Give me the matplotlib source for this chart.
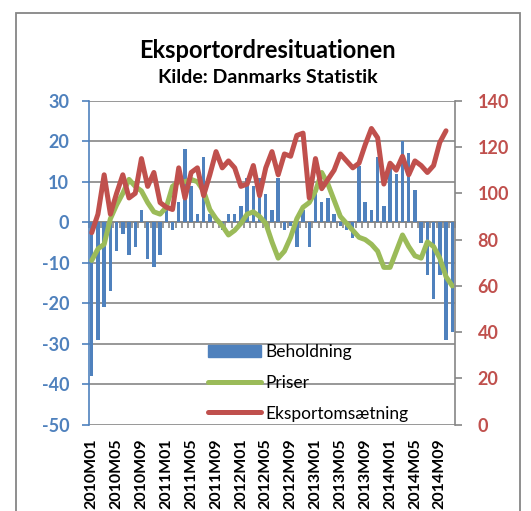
import numpy as np
import matplotlib
matplotlib.use('Agg')
import matplotlib.pyplot as plt
from matplotlib.patches import Rectangle
from matplotlib.lines import Line2D

plt.rcParams['font.family'] = ['Lato', 'DejaVu Sans']
plt.rcParams['axes.unicode_minus'] = False

# 2010M01 .. 2014M11
months = [f"{y}M{m:02d}" for y in range(2010, 2015) for m in range(1, 13)][:59]

beholdning = [-38, -29, -21, -17, -7, -3, -8, -6, 3, -9,
              -11, -8, 3, -2, 5, 18, 9, 2, 16, 2,
              0, -2, 2, 2, 4, 11, 9, 11, 7, 3,
              11, -2, -1, -6, 3, -6, 8, 5, 6, 2,
              -1, -2, -4, 14, 5, 3, 16, 4, 14, 12,
              20, 17, 8, -5, -13, -19, -13, -29, -27]

priser = [71, 76, 78, 89, 95, 100, 106, 103, 101, 96,
          92, 91, 94, 103, 105, 105, 106, 105, 101, 93,
          89, 86, 82, 84, 87, 91, 92, 90, 87, 79,
          72, 75, 81, 89, 94, 96, 101, 109, 104, 97,
          90, 87, 84, 81, 80, 78, 75, 68, 68, 75,
          82, 77, 73, 72, 79, 77, 72, 64, 60]

eksport = [83, 91, 108, 91, 100, 108, 98, 100, 115, 103,
           109, 96, 94, 93, 111, 98, 109, 111, 99, 108,
           118, 111, 114, 111, 103, 104, 112, 99, 111, 118,
           108, 117, 116, 125, 126, 98, 115, 102, 106, 110,
           117, 114, 111, 113, 121, 128, 124, 104, 113, 110,
           116, 108, 114, 112, 109, 112, 122, 127, np.nan]

blue = '#4F81BD'
green = '#9BBB59'
red = '#C0504D'
grey = '#868686'

fig = plt.figure(figsize=(5.31, 5.11), dpi=100)
ax = fig.add_axes([0.1669, 0.1687, 0.6906, 0.6342])
ax2 = ax.twinx()

x = np.arange(len(months))
ax.bar(x, beholdning, width=0.55, color=blue, zorder=3)
ax.set_xlim(-0.5, len(months) - 0.5)
ax.set_ylim(-50, 30)
ax.set_yticks(range(-50, 31, 10))
ax.yaxis.grid(True, color=grey, lw=1.2)
ax.set_axisbelow(True)

ax2.plot(x, priser, color=green, lw=3.6, solid_joinstyle='round', solid_capstyle='round')
ax2.plot(x, eksport, color=red, lw=3.6, solid_joinstyle='round', solid_capstyle='round')
ax2.set_ylim(0, 140)
ax2.set_yticks(range(0, 141, 20))

for s in ['top', 'bottom', 'right']:
    ax.spines[s].set_visible(False)
for s in ['top', 'bottom', 'left']:
    ax2.spines[s].set_visible(False)
ax.spines['left'].set_color(blue)
ax.spines['left'].set_linewidth(1.2)
ax2.spines['right'].set_color(grey)
ax2.spines['right'].set_linewidth(1.2)

ax.tick_params(axis='y', colors=blue, length=5, width=1.2, pad=9, labelsize=13)
ax2.tick_params(axis='y', colors=grey, length=5, width=1.2, pad=11, labelsize=13,
                labelcolor=red)
for t in ax.get_yticklabels():
    t.set_fontweight('bold')
for t in ax2.get_yticklabels():
    t.set_fontweight('bold')

ax.set_xticks(x[::4])
ax.set_xticklabels(months[::4], rotation=90, fontweight='bold', fontsize=11.5)
ax.tick_params(axis='x', length=0, pad=10)

# category axis crossing at zero
sec = ax.secondary_xaxis((0 - (-50)) / 80)
sec.set_alignment('bottom')
sec.set_xticks(np.arange(-0.5, len(months), 1))
sec.tick_params(axis='x', direction='out', length=4, width=1.2, color=grey,
                labelbottom=False, labeltop=False)
sec.spines['bottom'].set_color(grey)
sec.spines['bottom'].set_linewidth(1.2)

fig.text(0.504, 0.902, 'Eksportordresituationen', ha='center', va='center',
         fontsize=17, fontweight='bold')
fig.text(0.504, 0.849, 'Kilde: Danmarks Statistik', ha='center', va='center',
         fontsize=14, fontweight='bold')

handles = [Rectangle((0, 0), 1, 1, color=blue),
           Line2D([], [], color=green, lw=3.6, solid_capstyle='round'),
           Line2D([], [], color=red, lw=3.6, solid_capstyle='round')]
fig.legend(handles, ['Beholdning', 'Priser', 'Eksportomsætning'],
           loc='upper left', bbox_to_anchor=(208 / 531, 1 - 344 / 511),
           frameon=False, borderpad=0, fontsize=12.5, handlelength=3.05,
           handletextpad=0.25, labelspacing=0.85, borderaxespad=0)

fig.add_artist(Rectangle((15.5 / 531, -0.1), (520 - 15.5) / 531, 0.1 + 1 - 12.7 / 511,
                         transform=fig.transFigure, fill=False, edgecolor=grey, lw=1.3))

fig.savefig('out.png', dpi=100)
